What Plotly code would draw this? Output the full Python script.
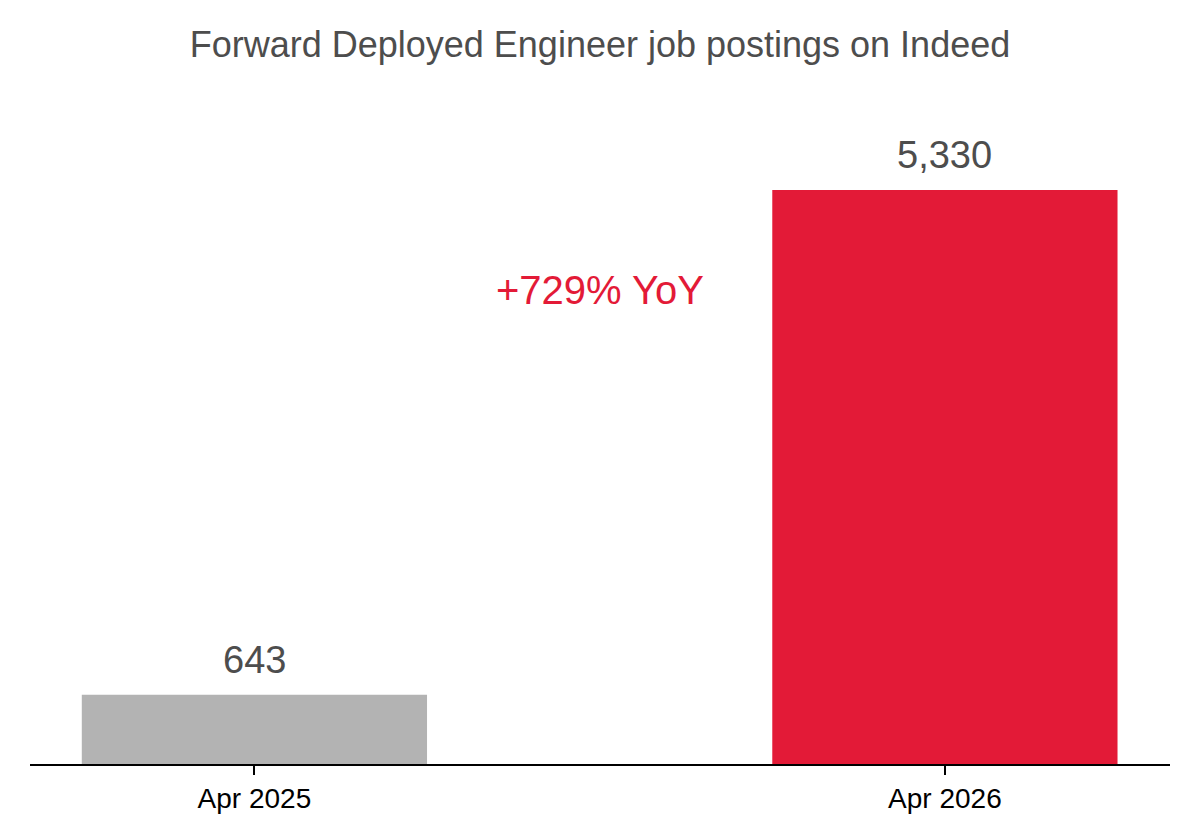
import plotly.graph_objects as go

categories = ["Apr 2025", "Apr 2026"]
values = [643, 5330]
bar_colors = ["#b3b3b3", "#e31a37"]
value_labels = ["643", "5,330"]
annotation_text = "+729% YoY"
title_text = "Forward Deployed Engineer job postings on Indeed"

FONT = "Liberation Sans, Arial, Helvetica, sans-serif"

fig = go.Figure()
fig.add_trace(go.Bar(
    x=categories, y=values, marker_color=bar_colors, marker_line_width=0,
    width=0.5, hoverinfo="skip", showlegend=False,
))

for c, v, t in zip(categories, values, value_labels):
    fig.add_annotation(x=c, y=v, text=t, showarrow=False, yanchor="bottom",
                       yshift=12, font=dict(family=FONT, size=38, color="#4d4d4d"))

fig.add_annotation(x=0.5, y=4400, xref="x", yref="y", text=annotation_text,
                   showarrow=False, yanchor="middle", xanchor="center",
                   font=dict(family=FONT, size=40, color="#e31a37"))

fig.update_layout(
    width=1200, height=840,
    paper_bgcolor="white", plot_bgcolor="white",
    margin=dict(l=22, r=38, t=92, b=84),
    title=dict(text=title_text, x=0.4933, xanchor="center", y=0.957, yanchor="middle",
               font=dict(family=FONT, size=36, color="#4d4d4d")),
    font=dict(family=FONT),
)
fig.update_xaxes(type="category", range=[-0.325, 1.326], showline=True,
                 linecolor="black", linewidth=1.5, ticks="outside", ticklen=9,
                 tickwidth=1.5, tickcolor="black", showgrid=False, zeroline=False,
                 tickfont=dict(family=FONT, size=28, color="black"))
fig.update_yaxes(range=[0, 6166], visible=False, showgrid=False, zeroline=False)

fig.write_html("out.html")
